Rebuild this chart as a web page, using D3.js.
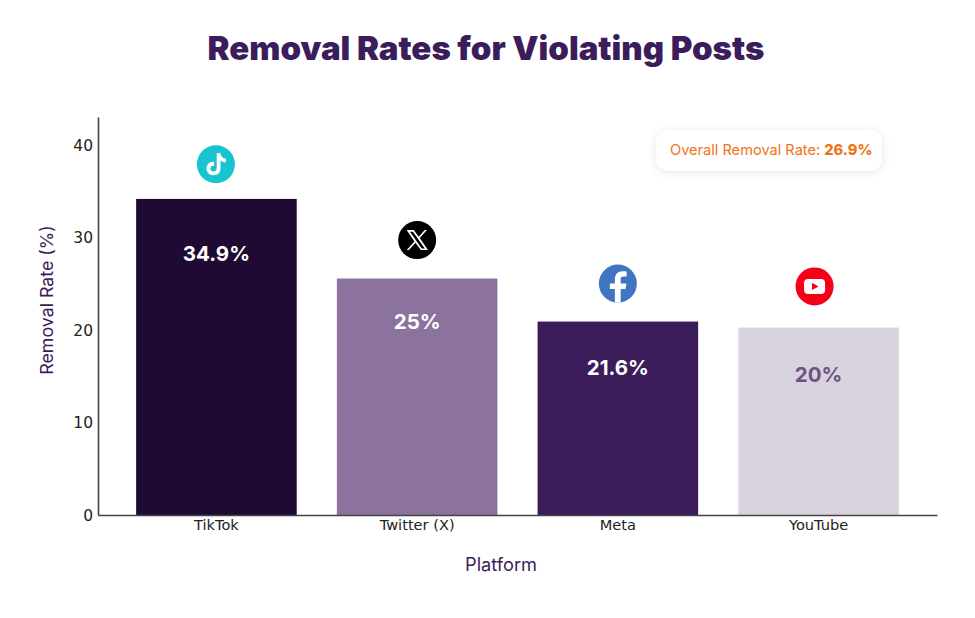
<!DOCTYPE html>
<html><head><meta charset="utf-8">
<script src="https://cdnjs.cloudflare.com/ajax/libs/d3/7.8.5/d3.min.js"></script>
<style>html,body{margin:0;padding:0;background:#fff}svg{display:block}</style>
</head><body><svg id="c" width="975" height="618"></svg>
<script>
const platforms = ["TikTok","Twitter (X)","Meta","YouTube"];
const barHeights = [34.15,25.55,20.9,20.25];
const valueLabels = ["34.9%","25%","21.6%","20%"];
const labelLevels = [28.2,20.85,15.95,15.2];
const iconLevels = [37.9,29.7,25.0,24.7];
const iconNudges = [-0.5,0,0,-4];
const yTicks = [0,10,20,30,40];
const barColors = ["#1f0a33","#8c739d","#3b1d5c","#d9d2df"];
const labelColors = ["#ffffff","#ffffff","#ffffff","#6b5484"];
const iconKinds = ["tiktok","x","facebook","youtube"];

const svg = d3.select("#c");
const defs = svg.append("defs");
const f = defs.append("filter").attr("id","sh").attr("x","-20%").attr("y","-40%").attr("width","140%").attr("height","180%");
f.append("feDropShadow").attr("dx",0).attr("dy",1).attr("stdDeviation",5).attr("flood-color","#000").attr("flood-opacity",0.10);

const x = d3.scaleBand().domain(platforms).range([98,937]).paddingInner(0.2).paddingOuter(0.19);
const y = d3.scaleLinear().domain([0,43]).range([515,117]);
const F = "Inter, 'Open Sans', sans-serif";
const ink = "#3b1d5c";

svg.append("text").attr("x",486).attr("y",60).attr("text-anchor","middle")
  .attr("font-family",F).attr("font-weight",900).attr("font-size",33).attr("fill",ink)
  .text("Removal Rates for Violating Posts");

svg.selectAll("rect.bar").data(platforms).join("rect").attr("class","bar")
  .attr("x",d=>x(d)).attr("width",x.bandwidth())
  .attr("y",(d,i)=>y(barHeights[i])).attr("height",(d,i)=>y(0)-y(barHeights[i]))
  .attr("fill",(d,i)=>barColors[i]);

const ax = svg.append("g").attr("transform","translate(98,0)").call(d3.axisLeft(y).tickValues(yTicks).tickSize(0).tickPadding(5));
ax.select(".domain").attr("stroke","#444").attr("stroke-width",1.6);
ax.selectAll("text").attr("font-family","'DejaVu Sans'").attr("font-size",15.5).attr("fill","#222").attr("dy","0.34em");
const bx = svg.append("g").attr("transform","translate(0,515)").call(d3.axisBottom(x).tickSize(0).tickPadding(5));
bx.select(".domain").attr("stroke","#444").attr("stroke-width",1.6);
bx.selectAll("text").attr("font-family","'DejaVu Sans'").attr("font-size",14.6).attr("fill","#222");

svg.append("text").attr("transform","translate(53,300) rotate(-90)").attr("text-anchor","middle")
  .attr("font-family",F).attr("font-size",17.8).attr("fill",ink).text("Removal Rate (%)");
svg.append("text").attr("x",501).attr("y",571).attr("text-anchor","middle")
  .attr("font-family",F).attr("font-size",18.2).attr("fill",ink).text("Platform");

svg.selectAll("text.val").data(platforms).join("text").attr("class","val")
  .attr("x",d=>x(d)+x.bandwidth()/2).attr("y",(d,i)=>y(labelLevels[i]))
  .attr("dy","0.36em").attr("text-anchor","middle")
  .attr("font-family",F).attr("font-weight",700).attr("font-size",20.5)
  .attr("fill",(d,i)=>labelColors[i]).text((d,i)=>valueLabels[i]);

// annotation
const note = svg.append("g");
note.append("rect").attr("x",656).attr("y",130).attr("width",226).attr("height",41).attr("rx",13)
  .attr("fill","#fff").attr("filter","url(#sh)");
const nt = note.append("text").attr("x",670).attr("y",155).attr("font-family",F).attr("font-size",14.6).attr("fill","#ee7518");
nt.append("tspan").text("Overall Removal Rate: ");
nt.append("tspan").attr("font-weight",800).text("26.9%");

// icons
const R = 19;
const draw = {
  tiktok(g){
    g.append("circle").attr("r",R).attr("fill","#16c5d0");
    g.append("path").attr("fill","#fff")
     .attr("d","M0.8,-11 H4.6 C4.9,-7.8 6.9,-5.8 10,-5.5 V-1.7 C7.9,-1.8 6.1,-2.5 4.6,-3.7 V4.2 C4.6,8.2 1.4,11 -2.4,11 C-6.4,11 -9.4,8 -9.4,4.2 C-9.4,0.2 -5.9,-2.9 -1.8,-2.3 V1.6 C-3.8,1 -5.6,2.3 -5.6,4.2 C-5.6,6 -4.2,7.2 -2.4,7.2 C-0.5,7.2 0.8,5.9 0.8,4 Z");
  },
  x(g){
    g.append("circle").attr("r",R).attr("fill","#000");
    g.append("path").attr("fill","#fff").attr("fill-rule","evenodd")
     .attr("d","M-10.5,-10 H-3.4 L1.6,-3.3 L7.6,-10 H9.8 L2.6,-2 L10.8,10 H3.7 L-1.7,2.7 L-8.2,10 H-10.4 L-2.7,1.4 Z M-7.2,-8.4 L4.6,8.4 H7.6 L-4.2,-8.4 Z");
  },
  facebook(g){
    g.append("circle").attr("r",R).attr("fill","#3f75c1");
    g.append("path").attr("fill","#fff")
     .attr("d","M-3,19 V5.5 H-8 V0 H-3 V-4 C-3,-9.6 0.2,-12.4 5,-12.4 C6.6,-12.4 8.2,-12.2 8.8,-12 V-7 H6 C3.4,-7 2.8,-5.8 2.8,-4 V0 H8.6 L7.6,5.5 H2.8 V19 Z");
  },
  youtube(g){
    g.append("circle").attr("r",R).attr("fill","#f50017");
    g.append("rect").attr("x",-10.5).attr("y",-7.5).attr("width",21).attr("height",15).attr("rx",4).attr("fill","#fff");
    g.append("path").attr("fill","#f50017").attr("d","M-2.6,-3.6 L4,0 L-2.6,3.6 Z");
  }
};
platforms.forEach((p,i)=>{
  const g = svg.append("g").attr("transform",`translate(${x(p)+x.bandwidth()/2+iconNudges[i]},${y(iconLevels[i])})`);
  draw[iconKinds[i]](g);
});
</script></body></html>
